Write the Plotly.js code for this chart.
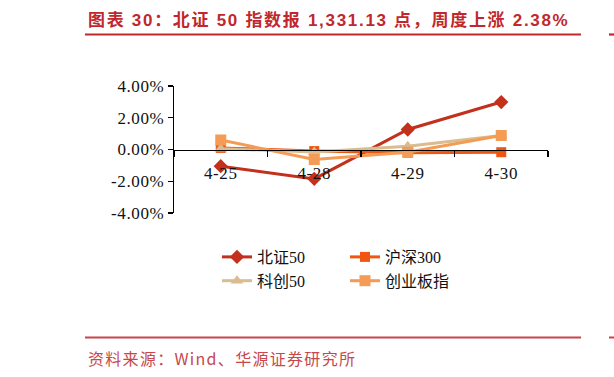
<!DOCTYPE html>
<html>
<head>
<meta charset="utf-8">
<script src="https://cdn.plot.ly/plotly-3.0.1.min.js"></script>
<style>
  html, body { margin: 0; padding: 0; background: #fff; }
  #chart { width: 614px; height: 377px; }
  .annotation[data-index="0"] text { letter-spacing: 1.7px; }
  .annotation[data-index="1"] text { letter-spacing: 1.3px; }
  .xtick text, .ytick text { letter-spacing: 0.6px; }
</style>
</head>
<body>
<div id="chart"></div>
<script>
// Daily change (%) of the main indices, week of 4-25 ~ 4-30
const dates = ['4-25', '4-28', '4-29', '4-30'];
const bz50 = [-1.05, -1.85, 1.26, 2.99];     // 北证50
const hs300 = [0.10, -0.10, -0.20, -0.17];   // 沪深300
const kc50 = [0.05, -0.15, 0.20, 0.88];      // 科创50
const cybz = [0.60, -0.63, -0.17, 0.88];     // 创业板指
const yTicks = [4, 2, 0, -2, -4];

const titleText = '图表 30：北证 50 指数报 1,331.13 点，周度上涨 2.38%';
const sourceText = '资料来源：Wind、华源证券研究所';

const W = 614, H = 377;
const M = { l: 174, r: 66, t: 86, b: 164 };
const plotW = W - M.l - M.r, plotH = H - M.t - M.b;
// page pixel -> paper coordinate helpers for the page furniture
const px = x => (x - M.l) / plotW;
const py = y => (H - M.b - y) / plotH;

const serif = 'Liberation Serif, Noto Sans CJK SC, serif';

function series(name, y, color, symbol, size, legend) {
  return {
    type: 'scatter', mode: 'lines+markers', name: name,
    x: dates, y: y, legend: legend,
    line: { color: color, width: 3 },
    marker: { color: color, symbol: symbol, size: size },
    hoverinfo: 'skip'
  };
}

const data = [
  series('北证50', bz50, '#C3301C', 'diamond', 11, 'legend'),
  series('沪深300', hs300, '#F0560F', 'square', 10, 'legend2'),
  series('科创50', kc50, '#D9BC90', 'triangle-up', 11, 'legend'),
  series('创业板指', cybz, '#F59B55', 'square', 11, 'legend2')
];

const red = '#C0282D';
const layout = {
  width: W, height: H,
  margin: M,
  paper_bgcolor: '#fff', plot_bgcolor: '#fff',
  showlegend: true,
  xaxis: {
    type: 'category', range: [-0.5, 3.5],
    anchor: 'free', position: 0.5,
    showline: true, linecolor: '#000', linewidth: 1.3,
    ticks: 'outside', tickson: 'boundaries', ticklen: 6, tickcolor: '#000', tickwidth: 1.3,
    ticklabelstandoff: 8,
    showgrid: false, zeroline: false,
    tickfont: { family: serif, size: 17, color: '#111' }
  },
  yaxis: {
    range: [-4, 4],
    tickvals: yTicks, ticktext: yTicks.map(v => v.toFixed(2) + '%'),
    showline: true, linecolor: '#000', linewidth: 1.3,
    ticks: 'outside', ticklen: 5, tickcolor: '#000', tickwidth: 1.3,
    showgrid: false, zeroline: false,
    tickfont: { family: serif, size: 17, color: '#111' }
  },
  legend: {
    x: px(217), y: py(240), xanchor: 'left', yanchor: 'top',
    orientation: 'v', tracegroupgap: 8,
    font: { family: serif, size: 16, color: '#111' },
    bgcolor: 'rgba(0,0,0,0)'
  },
  legend2: {
    x: px(345), y: py(240), xanchor: 'left', yanchor: 'top',
    orientation: 'v', tracegroupgap: 8,
    font: { family: serif, size: 16, color: '#111' },
    bgcolor: 'rgba(0,0,0,0)'
  },
  annotations: [
    {
      text: '<b>' + titleText + '</b>', xref: 'paper', yref: 'paper', align: 'left',
      x: px(86), y: py(20), xanchor: 'left', yanchor: 'middle', showarrow: false,
      font: { family: 'Liberation Sans, Noto Sans CJK SC, sans-serif', size: 17, color: red }
    },
    {
      text: sourceText, xref: 'paper', yref: 'paper', align: 'left',
      x: px(86), y: py(358), xanchor: 'left', yanchor: 'middle', showarrow: false,
      font: { family: 'Noto Sans CJK SC, sans-serif', size: 16, color: '#C7474B' }
    }
  ],
  shapes: [
    { type: 'line', xref: 'paper', yref: 'paper', x0: px(85), x1: px(581), y0: py(34.5), y1: py(34.5),
      line: { color: red, width: 2.2 } },
    { type: 'line', xref: 'paper', yref: 'paper', x0: px(85), x1: px(581), y0: py(337.5), y1: py(337.5),
      line: { color: '#C9454A', width: 2 } },
    { type: 'line', xref: 'paper', yref: 'paper', x0: px(609), x1: px(616), y0: py(34.5), y1: py(34.5),
      line: { color: red, width: 2.2 } },
    { type: 'line', xref: 'paper', yref: 'paper', x0: px(609), x1: px(616), y0: py(337.5), y1: py(337.5),
      line: { color: '#C9454A', width: 2 } }
  ]
};

Plotly.newPlot('chart', data, layout, { staticPlot: true, displayModeBar: false });
</script>
</body>
</html>
